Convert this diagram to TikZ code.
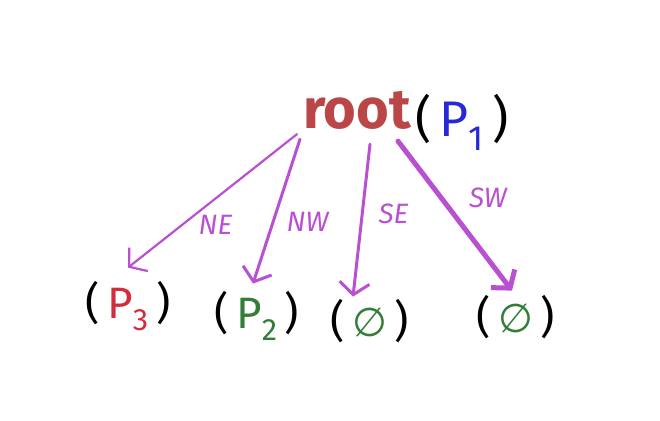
\documentclass[tikz,border=0pt]{standalone}
\usepackage{fontspec}
\setmainfont{Fira Sans}
\newfontfamily\symbfont{DejaVu Sans}
\usetikzlibrary{arrows.meta}
\definecolor{rootred}{RGB}{186,70,72}
\definecolor{pblue}{RGB}{40,40,215}
\definecolor{pred}{RGB}{210,45,60}
\definecolor{pgreen}{RGB}{50,125,55}
\definecolor{edgeviolet}{RGB}{185,80,210}
\newcommand{\tuple}[2]{(\,\textcolor{#1}{#2}\,)}
\newcommand{\nothingset}{{\symbfont\fontsize{40}{48}\selectfont ∅}}
\tikzset{
  edge/.style={draw=edgeviolet, line cap=round, line join=round, -{Straight Barb[length=12pt,width=30pt]}},
  dirlabel/.style={text=edgeviolet, font=\fontsize{28}{32}\selectfont\itshape},
  leaf/.style={anchor=base, inner sep=1pt, font=\fontsize{44}{52}\selectfont},
}
\begin{document}
\begin{tikzpicture}[x=1pt, y=-1pt]
\useasboundingbox (0,0) rectangle (660,420);
\node[anchor=base, inner sep=1pt, text=rootred, font=\fontsize{56}{64}\selectfont\bfseries] (root) at (357,128) {root};
\node[leaf, font=\fontsize{50}{58}\selectfont] (p1) at (462,136) {\tuple{pblue}{P\textsubscript{1}}};
\node[leaf] (p3) at (128,318) {\tuple{pred}{P\textsubscript{3}}};
\node[leaf] (p2) at (257,328) {\tuple{pgreen}{P\textsubscript{2}}};
\node[leaf] (e1) at (370,336) {\tuple{pgreen}{\nothingset}};
\node[leaf] (e2) at (516,332) {\tuple{pgreen}{\nothingset}};
\draw[edge, line width=2.2pt] ([xshift=-60pt,yshift=-4pt]root.south) -- ([yshift=12pt]p3.north) node[dirlabel, midway, xshift=3pt, yshift=-24pt] {NE};
\draw[edge, line width=3pt] ([xshift=-57pt,yshift=-9pt]root.south) -- ([xshift=-4pt,yshift=6pt]p2.north) node[dirlabel, midway, xshift=31pt, yshift=-10pt] {NW};
\draw[edge, line width=3pt] ([xshift=13pt,yshift=-14pt]root.south) -- ([xshift=-17pt,yshift=1pt]e1.north) node[dirlabel, midway, xshift=32pt, yshift=7pt] {SE};
\draw[edge, line width=5pt] ([xshift=41pt,yshift=-11pt]root.south) -- ([xshift=-4pt,yshift=3pt]e2.north) node[dirlabel, midway, xshift=33pt, yshift=18pt] {SW};
\end{tikzpicture}
\end{document}
